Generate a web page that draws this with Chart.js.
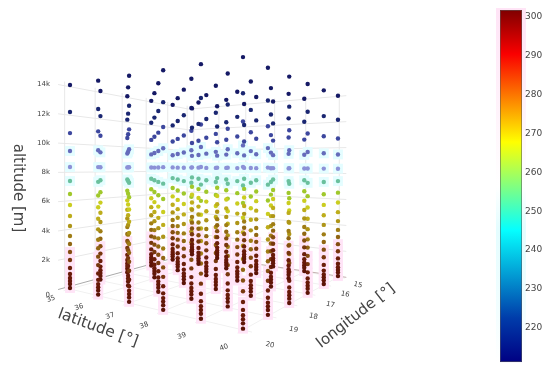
<!DOCTYPE html>
<html>
<head>
<meta charset="utf-8">
<script src="https://cdn.jsdelivr.net/npm/chart.js@4/dist/chart.umd.min.js"></script>
<style>
html,body{margin:0;padding:0;background:#fff;}
canvas{display:block;}
</style>
</head>
<body>
<canvas id="plot" width="550" height="372"></canvas>
<script>
// grid of the model columns
const latitudes=[35,36,37,38,39,40];
const longitudes=[15,16,17,18,19,20];
// levels, top to bottom
const altitudes=[14000,12150,10700,9470,8370,7410,6520,5760,5010,4320,3640,3090,2540,1990,1440,1030,755,550,340,70];
const temperatures=[214,217,224,231,238,250,260,267,272,275,278,281,284,287,290,292,293,295,296,298];
const altitudeTicks=[0,2000,4000,6000,8000,10000,12000,14000];
const altitudeTickLabels=["0","2k","4k","6k","8k","10k","12k","14k"];
const temperatureTicks=[220,230,240,250,260,270,280,290,300];
// plotly Jet
const jetStops=[[0,0,0,131],[0.125,0,60,170],[0.375,5,255,255],[0.625,255,255,0],[0.875,250,0,0],[1,128,0,0]];
const tempMin=211.3, tempMax=301.6;

// empirical camera, fitted on the floor corners and column tops
function project(lat,lon,alt){
    const u=(lat-35)/5, v=(20-lon)/5;
    const w=1-0.2218*u+0.3293*v;
    const x=(70+119.1*u+185.2*v)/w;
    const y=(289-32.2*u+50*v)/w-(alt/14000)*204/Math.pow(w,1.16);
    return {x:x,y:y};
}

function jet(t){
    let f=(t-tempMin)/(tempMax-tempMin);
    f=Math.max(0,Math.min(1,f));
    for(let i=1;i<jetStops.length;i++){
        if(f<=jetStops[i][0]){
            const a=jetStops[i-1], b=jetStops[i];
            const k=(f-a[0])/(b[0]-a[0]);
            return [a[1]+k*(b[1]-a[1]),a[2]+k*(b[2]-a[2]),a[3]+k*(b[3]-a[3])];
        }
    }
    return [128,0,0];
}

// small dots in the picture look washed out and darker than the bar
function dotColor(t){
    if(t>=222 && t<245){
        // the cool levels come out periwinkle, not cyan
        const k=Math.min(1,(t-222)/16);
        return `rgb(${Math.round(50+k*90)},${Math.round(60+k*85)},${Math.round(150+k*65)})`;
    }
    const c=jet(t);
    const l=0.3*c[0]+0.59*c[1]+0.11*c[2];
    const m=c.map(v=>v*0.55+l*0.45);
    if(t>=255){
        // warm levels go ochre then brown
        let red=0.85;
        if(t>270) red=Math.max(0.62,0.85-0.0115*(t-270));
        if(t>290) red=0.62+0.022*(t-290);
        m[0]*=red; m[1]*=0.85; m[2]*=0.3;
    }else if(t<222){
        m[0]+=10; m[1]+=6; m[2]*=1.15;
    }else{
        m[0]*=0.9; m[1]*=0.85; m[2]*=0.8;
    }
    return `rgb(${Math.round(m[0])},${Math.round(m[1])},${Math.round(m[2])})`;
}

function haloColor(t){
    if(t>=284) return "#ffe4f7";
    if(t>=226 && t<=252) return "#e4fdff";
    return "rgba(255,255,255,0)";
}

const latWall=34.8, latFront=40.2, lonWall=14.9, lonFront=20.2;

function line(a,b,color,width,order){
    return {data:[a,b],showLine:true,borderColor:color,borderWidth:width,pointRadius:0,order:order};
}

const datasets=[];
const gridColor="#e8e8e8", floorColor="#f1f1f1";
latitudes.forEach(lat=>{
    datasets.push(line(project(lat,lonWall,0),project(lat,lonFront,0),floorColor,1,10));
    datasets.push(line(project(lat,lonWall,0),project(lat,lonWall,14300),gridColor,1,10));
});
longitudes.forEach(lon=>{
    datasets.push(line(project(latWall,lon,0),project(latFront,lon,0),floorColor,1,10));
    datasets.push(line(project(latWall,lon,0),project(latWall,lon,14300),gridColor,1,10));
});
altitudeTicks.slice(1).forEach(alt=>{
    datasets.push(line(project(latWall,lonFront,alt),project(latWall,lonWall,alt),gridColor,1,10));
    datasets.push(line(project(latWall,lonWall,alt),project(latFront,lonWall,alt),gridColor,1,10));
});
datasets.push(line(project(latWall,lonFront,0),project(latWall,lonWall,0),"#aaaaaa",1,9));
datasets.push(line(project(latWall,lonWall,0),project(latFront,lonWall,0),"#c4b0b0",1,9));

// columns back to front so the near dots sit on top
const dots=[], dotColors=[], haloColors=[];
const columns=[];
latitudes.forEach(lat=>longitudes.forEach(lon=>columns.push([lat,lon])));
columns.sort((a,b)=>(a[0]-a[1])-(b[0]-b[1]));
columns.forEach(c=>{
    altitudes.forEach((alt,i)=>{
        dots.push(project(c[0],c[1],alt));
        dotColors.push(dotColor(temperatures[i]));
        haloColors.push(haloColor(temperatures[i]));
    });
});
datasets.push({data:dots,pointStyle:"rect",pointRadius:7,pointBorderWidth:0,pointBackgroundColor:haloColors,order:5});
datasets.push({data:dots,pointRadius:2.2,pointBorderWidth:0,pointBackgroundColor:dotColors,order:1});

function label(ctx,text,x,y,size,angle,align){
    ctx.save();
    ctx.translate(x,y);
    ctx.rotate(angle*Math.PI/180);
    ctx.font=size+'px "DejaVu Sans"';
    ctx.fillStyle="#444";
    ctx.textAlign=align||"center";
    ctx.textBaseline="middle";
    ctx.fillText(text,0,0);
    ctx.restore();
}

const scenePlugin={
    id:"scene",
    afterDatasetsDraw(chart){
        const ctx=chart.ctx;
        altitudeTicks.forEach((alt,i)=>{
            const p=project(latWall,lonFront,alt);
            label(ctx,altitudeTickLabels[i],50,p.y+(i==0?6:0),7,0,"right");
        });
        latitudes.forEach((lat,i)=>{
            const p=project(lat,20,0);
            label(ctx,String(lat),p.x-19,p.y+10+i*1.5,7,-20);
        });
        longitudes.forEach((lon,i)=>{
            const p=project(40,lon,0);
            label(ctx,String(lon),p.x+20+i*1.4,p.y+8+i*1.4,7,12);
        });
        label(ctx,"altitude [m]",18,188,15,90);
        label(ctx,"latitude [°]",98,328,15.5,20);
        label(ctx,"longitude [°]",356,316,15,-38);

        // colour bar
        const s=chart.scales.temp;
        const top=s.getPixelForValue(tempMax), bottom=s.getPixelForValue(tempMin);
        const halo=ctx.createLinearGradient(0,top,0,bottom);
        halo.addColorStop(0,"#ffe4f6");
        halo.addColorStop(0.3,"#fff4fb");
        halo.addColorStop(0.5,"#ffffff");
        halo.addColorStop(0.62,"#e4fdff");
        halo.addColorStop(0.85,"#f2feff");
        halo.addColorStop(1,"#ffffff");
        ctx.fillStyle=halo;
        ctx.fillRect(496,top-2,30,bottom-top+4);
        const grad=ctx.createLinearGradient(0,bottom,0,top);
        jetStops.forEach(st=>grad.addColorStop(st[0],`rgb(${st[1]},${st[2]},${st[3]})`));
        ctx.fillStyle=grad;
        ctx.fillRect(500,top,22,bottom-top);
        ctx.strokeStyle="rgba(90,90,90,0.55)";
        ctx.lineWidth=1;
        ctx.strokeRect(500.5,top+0.5,21,bottom-top-1);
        temperatureTicks.forEach(t=>{
            label(ctx,String(t),525,s.getPixelForValue(t),9,0,"left");
        });
    }
};

new Chart(document.getElementById("plot"),{
    type:"scatter",
    data:{datasets:datasets},
    options:{
        responsive:false,
        animation:false,
        layout:{padding:0,autoPadding:false},
        plugins:{legend:{display:false},tooltip:{enabled:false},title:{display:false}},
        scales:{
            x:{type:"linear",display:false,min:0,max:550},
            y:{type:"linear",display:false,min:0,max:372,reverse:true},
            temp:{type:"linear",axis:"y",display:false,min:208.74,max:304.17}
        }
    },
    plugins:[scenePlugin]
});
</script>
</body>
</html>
